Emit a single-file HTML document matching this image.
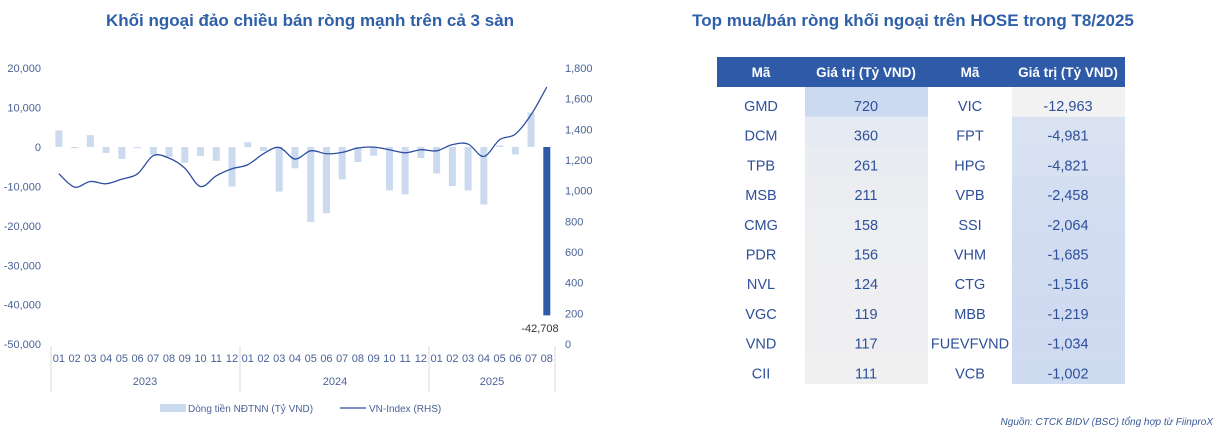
<!DOCTYPE html>
<html><head><meta charset="utf-8"><style>
body{margin:0;background:#fff;width:1221px;height:433px;overflow:hidden;font-family:"Liberation Sans","Noto Sans CJK SC",sans-serif;}
</style></head><body>
<svg id="s" width="1221" height="433" xmlns="http://www.w3.org/2000/svg" font-family="Liberation Sans, sans-serif">
<text x="310" y="26" text-anchor="middle" font-size="17" font-weight="bold" fill="#2E5FA8">Khối ngoại đảo chiều bán ròng mạnh trên cả 3 sàn</text>
<text x="913" y="26" text-anchor="middle" font-size="17" font-weight="bold" fill="#2E5FA8">Top mua/bán ròng khối ngoại trên HOSE trong T8/2025</text>
<g id="chart"></g>
<g id="tbl"></g>
<text x="1213" y="425" text-anchor="end" font-size="10" font-style="italic" fill="#3A5A9A">Nguồn: CTCK BIDV (BSC) tổng hợp từ FiinproX</text>
</svg>
<script>
var NS="http://www.w3.org/2000/svg";
function el(p,t,a,txt){var e=document.createElementNS(NS,t);for(var k in a)e.setAttribute(k,a[k]);if(txt!=null)e.textContent=txt;p.appendChild(e);return e;}
var g=document.getElementById('chart');
var lab="#4A6296";
var L=[20,10,0,-10,-20,-30,-40,-50];
L.forEach(function(v){var y=147-v*3.943;el(g,'text',{x:41,y:y+4,'text-anchor':'end','font-size':11,fill:lab},(v<0?'-':'')+(Math.abs(v)?Math.abs(v)+',000':'0'));});
for(var r=0;r<=1800;r+=200){var y=344-r*276/1800;el(g,'text',{x:565,y:y+4,'font-size':11,fill:lab},r>=1000?(Math.floor(r/1000)+','+String(r%1000).padStart(3,'0')):String(r));}
var bars=[4.2,-0.3,3,-1.5,-3,-0.3,-2,-2.5,-4,-2.3,-3.5,-10,1.2,-1,-11.3,-5.4,-19,-16.8,-8.2,-3.8,-2.2,-11,-12,-2.8,-6.7,-9.9,-11,-14.6,0.4,-1.9,8.7,-42.7];
var vn=[1110,1023,1060,1045,1075,1110,1228,1212,1147,1027,1097,1143,1169,1241,1282,1206,1260,1241,1250,1278,1284,1267,1247,1267,1260,1300,1304,1223,1332,1369,1495,1676];
var x0=51,w=15.74;
bars.forEach(function(v,i){var cx=x0+w*(i+0.5);var y=147-v*3.943;el(g,'rect',{x:cx-3.5,y:Math.min(y,147),width:7,height:Math.abs(y-147),fill:i==31?'#2E5AA8':'#CCDAF0'});});
var pts=vn.map(function(v,i){return [x0+w*(i+0.5),344-v*276/1800];});
var d='M'+pts[0][0]+','+pts[0][1];
for(var i=0;i<pts.length-1;i++){var p0=pts[Math.max(i-1,0)],p1=pts[i],p2=pts[i+1],p3=pts[Math.min(i+2,pts.length-1)];
d+=' C'+(p1[0]+(p2[0]-p0[0])/6)+','+(p1[1]+(p2[1]-p0[1])/6)+' '+(p2[0]-(p3[0]-p1[0])/6)+','+(p2[1]-(p3[1]-p1[1])/6)+' '+p2[0]+','+p2[1];}
el(g,'path',{d:d,fill:'none',stroke:'#2E4FA0','stroke-width':1.3});
el(g,'text',{x:540,y:332,'text-anchor':'middle','font-size':11,fill:'#333'},'-42,708');
var m=['01','02','03','04','05','06','07','08','09','10','11','12'];
for(var i=0;i<32;i++){el(g,'text',{x:x0+w*(i+0.5),y:362,'text-anchor':'middle','font-size':11,fill:lab},m[i%12]);}
[51,240,429,555].forEach(function(x){el(g,'line',{x1:x,y1:346,x2:x,y2:392,stroke:'#D9D9D9'});});
[['2023',145],['2024',335],['2025',492]].forEach(function(a){el(g,'text',{x:a[1],y:385,'text-anchor':'middle','font-size':11,fill:lab},a[0]);});
el(g,'rect',{x:160,y:404,width:26,height:8,fill:'#CCDAF0'});
el(g,'text',{x:188,y:412,'font-size':10,fill:lab},'Dòng tiền NĐTNN (Tỷ VND)');
el(g,'line',{x1:340,y1:408,x2:366,y2:408,stroke:'#2E4FA0','stroke-width':1.3});
el(g,'text',{x:369,y:412,'font-size':10,fill:lab},'VN-Index (RHS)');
var t=document.getElementById('tbl');
el(t,'rect',{x:717,y:57,width:408,height:30,fill:'#2E5AA8'});
[['Mã',761],['Giá trị (Tỷ VND)',866],['Mã',970],['Giá trị (Tỷ VND)',1068]].forEach(function(a){el(t,'text',{x:a[1],y:77,'text-anchor':'middle','font-size':13.5,'font-weight':'bold',fill:'#fff'},a[0]);});
var rows=[['GMD','720','VIC','-12,963'],['DCM','360','FPT','-4,981'],['TPB','261','HPG','-4,821'],['MSB','211','VPB','-2,458'],['CMG','158','SSI','-2,064'],['PDR','156','VHM','-1,685'],['NVL','124','CTG','-1,516'],['VGC','119','MBB','-1,219'],['VND','117','FUEVFVND','-1,034'],['CII','111','VCB','-1,002']];
var c2=['#CCDAF1','#E6EBF3','#E9ECF1','#EBEDF1','#EDEEF1','#EEEFF1','#EFEFF1','#EFEFF1','#EFEFF1','#F0F0F0'];
var c4=['#F2F2F2','#D9E2F1','#D7E1F1','#D3DEF1','#D2DDF1','#D1DCF1','#D1DCF1','#D0DBF1','#D0DBF1','#CFDBF1'];
rows.forEach(function(r,i){var y=87+i*29.7;
el(t,'rect',{x:805,y:y,width:123,height:29.8,fill:c2[i]});
el(t,'rect',{x:1012,y:y,width:113,height:29.8,fill:c4[i]});
var f={'text-anchor':'middle','font-size':14.5,fill:'#2E4F9A',y:y+24};
[[r[0],761],[r[1],866],[r[2],970],[r[3],1068]].forEach(function(a){var o=Object.assign({},f,{x:a[1]});el(t,'text',o,a[0]);});});
</script>
</body></html>
